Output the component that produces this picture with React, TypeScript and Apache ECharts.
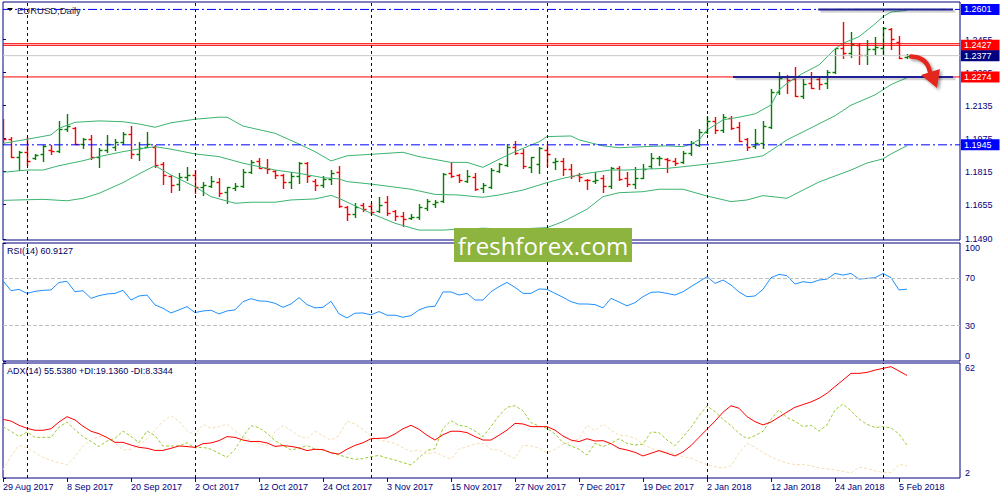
import { useEffect, useRef } from "react";
import * as echarts from "echarts";

// ---- values (bar index 0 = 29 Aug 2017) ----
const DATE_TICKS = [
  "29 Aug 2017", "8 Sep 2017", "20 Sep 2017", "2 Oct 2017", "12 Oct 2017",
  "24 Oct 2017", "3 Nov 2017", "15 Nov 2017", "27 Nov 2017", "7 Dec 2017",
  "19 Dec 2017", "2 Jan 2018", "12 Jan 2018", "24 Jan 2018", "5 Feb 2018",
];
const TICK_STEP = 8; // bars between date labels
const MONTH_STARTS = [3, 24, 46, 68, 88, 110];

const OPEN = [
  1.1985, 1.1973, 1.1885, 1.1909, 1.1883, 1.1899, 1.1920, 1.1917, 1.2022, 1.2027,
  1.1949, 1.1973, 1.1885, 1.1920, 1.1936, 1.1960, 1.1996, 1.1899, 1.1936, 1.1936,
  1.1851, 1.1794, 1.1754, 1.1791, 1.1799, 1.1739, 1.1747, 1.1764, 1.1715, 1.1737,
  1.1746, 1.1812, 1.1867, 1.1834, 1.1818, 1.1799, 1.1767, 1.1794, 1.1856, 1.1771,
  1.1750, 1.1778, 1.1815, 1.1642, 1.1610, 1.1654, 1.1650, 1.1626, 1.1670, 1.1626,
  1.1600, 1.1592, 1.1597, 1.1640, 1.1658, 1.1674, 1.1807, 1.1799, 1.1771, 1.1791,
  1.1735, 1.1742, 1.1818, 1.1847, 1.1936, 1.1904, 1.1839, 1.1852, 1.1920, 1.1860,
  1.1868, 1.1828, 1.1799, 1.1777, 1.1770, 1.1786, 1.1747, 1.1834, 1.1786, 1.1754,
  1.1786, 1.1844, 1.1880, 1.1876, 1.1867, 1.1860, 1.1904, 1.1944, 1.2008, 1.2061,
  1.2017, 1.2074, 1.2033, 1.1973, 1.1937, 1.1952, 1.2033, 1.2200, 1.2275, 1.2262,
  1.2183, 1.2245, 1.2262, 1.2245, 1.2297, 1.2416, 1.2389, 1.2429, 1.2380, 1.2408,
  1.2413, 1.2506, 1.2445, 1.2369,
];
const HIGH = [
  1.2070, 1.1985, 1.1915, 1.1985, 1.1899, 1.1944, 1.1944, 1.2062, 1.2095, 1.2030,
  1.1977, 1.1993, 1.1928, 1.1993, 1.1973, 1.2006, 1.2038, 1.1960, 1.2006, 1.1944,
  1.1863, 1.1799, 1.1807, 1.1839, 1.1823, 1.1766, 1.1796, 1.1786, 1.1742, 1.1762,
  1.1828, 1.1872, 1.1880, 1.1876, 1.1823, 1.1802, 1.1812, 1.1860, 1.1860, 1.1778,
  1.1796, 1.1823, 1.1843, 1.1649, 1.1662, 1.1662, 1.1665, 1.1691, 1.1697, 1.1629,
  1.1621, 1.1608, 1.1658, 1.1681, 1.1678, 1.1807, 1.1860, 1.1804, 1.1823, 1.1810,
  1.1759, 1.1831, 1.1856, 1.1948, 1.1964, 1.1924, 1.1888, 1.1933, 1.1948, 1.1880,
  1.1880, 1.1851, 1.1810, 1.1780, 1.1812, 1.1799, 1.1839, 1.1843, 1.1812, 1.1839,
  1.1851, 1.1904, 1.1892, 1.1883, 1.1880, 1.1917, 1.1964, 1.2022, 1.2085, 1.2081,
  1.2093, 1.2085, 1.2054, 1.1980, 1.2022, 1.2061, 1.2216, 1.2297, 1.2284, 1.2324,
  1.2264, 1.2297, 1.2270, 1.2308, 1.2416, 1.2539, 1.2491, 1.2437, 1.2453, 1.2469,
  1.2518, 1.2513, 1.2472, 1.2384,
];
const LOW = [
  1.1948, 1.1885, 1.1823, 1.1847, 1.1875, 1.1868, 1.1901, 1.1912, 1.2014, 1.1949,
  1.1928, 1.1875, 1.1839, 1.1912, 1.1920, 1.1948, 1.1880, 1.1872, 1.1933, 1.1836,
  1.1755, 1.1718, 1.1726, 1.1775, 1.1710, 1.1702, 1.1742, 1.1699, 1.1665, 1.1726,
  1.1742, 1.1807, 1.1831, 1.1807, 1.1783, 1.1737, 1.1737, 1.1762, 1.1767, 1.1726,
  1.1742, 1.1754, 1.1642, 1.1581, 1.1597, 1.1626, 1.1608, 1.1621, 1.1605, 1.1581,
  1.1552, 1.1584, 1.1584, 1.1629, 1.1642, 1.1670, 1.1791, 1.1764, 1.1764, 1.1726,
  1.1715, 1.1737, 1.1815, 1.1843, 1.1899, 1.1831, 1.1815, 1.1810, 1.1844, 1.1828,
  1.1799, 1.1786, 1.1770, 1.1731, 1.1759, 1.1718, 1.1737, 1.1775, 1.1747, 1.1737,
  1.1783, 1.1831, 1.1847, 1.1815, 1.1847, 1.1856, 1.1896, 1.1941, 1.2001, 1.2001,
  1.2009, 1.2022, 1.1964, 1.1920, 1.1928, 1.1928, 1.2028, 1.2190, 1.2195, 1.2182,
  1.2174, 1.2219, 1.2216, 1.2222, 1.2292, 1.2365, 1.2372, 1.2335, 1.2335, 1.2384,
  1.2384, 1.2408, 1.2365, 1.2367,
];
const CLOSE = [
  1.1973, 1.1885, 1.1912, 1.1867, 1.1896, 1.1938, 1.1917, 1.2022, 1.2035, 1.1951,
  1.1972, 1.1885, 1.1920, 1.1949, 1.1960, 1.1996, 1.1899, 1.1931, 1.1948, 1.1847,
  1.1799, 1.1750, 1.1791, 1.1799, 1.1739, 1.1750, 1.1770, 1.1710, 1.1739, 1.1747,
  1.1812, 1.1860, 1.1834, 1.1828, 1.1799, 1.1767, 1.1794, 1.1856, 1.1794, 1.1750,
  1.1778, 1.1810, 1.1649, 1.1610, 1.1642, 1.1633, 1.1621, 1.1654, 1.1613, 1.1602,
  1.1584, 1.1597, 1.1642, 1.1673, 1.1670, 1.1802, 1.1794, 1.1775, 1.1794, 1.1731,
  1.1750, 1.1823, 1.1851, 1.1936, 1.1904, 1.1844, 1.1885, 1.1928, 1.1901, 1.1868,
  1.1828, 1.1796, 1.1791, 1.1773, 1.1775, 1.1747, 1.1834, 1.1780, 1.1754, 1.1786,
  1.1828, 1.1880, 1.1882, 1.1872, 1.1859, 1.1904, 1.1953, 1.2006, 1.2061, 1.2017,
  1.2081, 1.2028, 1.1964, 1.1936, 1.1952, 1.2036, 1.2200, 1.2270, 1.2259, 1.2183,
  1.2238, 1.2222, 1.2240, 1.2297, 1.2413, 1.2389, 1.2432, 1.2380, 1.2410, 1.2421,
  1.2510, 1.2457, 1.2365, 1.2377,
];

// Bollinger bands (20, 2): [bar index, price]
const BB_UPPER = [
  [0, 1.1952], [3, 1.1972], [6, 1.1993], [7, 1.2025], [9, 1.2054], [12, 1.2061], [15, 1.2057],
  [17, 1.2046], [19, 1.2030], [21, 1.2052], [24, 1.2069], [27, 1.2079], [28, 1.2079], [30, 1.2036],
  [34, 1.2001], [37, 1.1949], [39, 1.1912], [41, 1.1867], [43, 1.1892], [46, 1.1899], [50, 1.1909],
  [52, 1.1888], [56, 1.1860], [58, 1.1860], [60, 1.1836], [62, 1.1875], [64, 1.1912], [67, 1.1960],
  [68, 1.1985], [71, 1.1988], [72, 1.1969], [75, 1.1940], [77, 1.1931], [80, 1.1936], [83, 1.1940],
  [85, 1.1936], [86, 1.1949], [87, 1.1969], [88, 1.2017], [90, 1.2066], [92, 1.2079], [94, 1.2095],
  [96, 1.2138], [97, 1.2211], [98, 1.2243], [100, 1.2292], [102, 1.2332], [104, 1.2410], [105, 1.2437],
  [107, 1.2469], [109, 1.2531], [110, 1.2566], [111, 1.2589], [113, 1.2596],
];
const BB_MIDDLE = [
  [0, 1.1812], [3, 1.1823], [5, 1.1823], [7, 1.1844], [10, 1.1868], [12, 1.1888], [15, 1.1912],
  [17, 1.1925], [19, 1.1936], [21, 1.1924], [24, 1.1901], [27, 1.1888], [30, 1.1856], [34, 1.1823],
  [37, 1.1807], [40, 1.1786], [42, 1.1780], [43, 1.1767], [46, 1.1755], [51, 1.1730], [54, 1.1705],
  [57, 1.1702], [59, 1.1694], [60, 1.1691], [62, 1.1702], [65, 1.1726], [68, 1.1762], [70, 1.1783],
  [73, 1.1807], [76, 1.1823], [78, 1.1823], [80, 1.1827], [83, 1.1831], [85, 1.1839], [89, 1.1856],
  [92, 1.1872], [95, 1.1892], [98, 1.1969], [101, 1.2027], [104, 1.2086], [106, 1.2137],
  [109, 1.2187], [111, 1.2237], [113, 1.2270],
];
const BB_LOWER = [
  [0, 1.1676], [5, 1.1681], [8, 1.1674], [10, 1.1686], [12, 1.1710], [15, 1.1762], [17, 1.1804],
  [19, 1.1844], [21, 1.1799], [24, 1.1742], [26, 1.1694], [29, 1.1662], [31, 1.1667], [34, 1.1667],
  [36, 1.1678], [39, 1.1683], [41, 1.1700], [42, 1.1686], [46, 1.1613], [49, 1.1565], [52, 1.1532],
  [55, 1.1532], [57, 1.1536], [60, 1.1541], [63, 1.1537], [66, 1.1540], [68, 1.1544], [70, 1.1573],
  [73, 1.1633], [75, 1.1694], [77, 1.1713], [80, 1.1718], [82, 1.1730], [85, 1.1730], [88, 1.1697],
  [91, 1.1670], [93, 1.1678], [95, 1.1699], [98, 1.1686], [100, 1.1726], [102, 1.1765], [104, 1.1794],
  [106, 1.1823], [108, 1.1857], [110, 1.1877], [111, 1.1901], [113, 1.1941],
];

const PRICE_TICKS = [1.2455, 1.2295, 1.2135, 1.1975, 1.1815, 1.1655, 1.149];
// horizontal levels drawn by the analyst: [price, tag text or ""]
const BLUE_LEVELS: [number, string][] = [[1.2601, "1.2601"], [1.1945, "1.1945"]];
const RED_LEVELS: [number, string][] = [[1.2435, ""], [1.2427, "1.2427"], [1.2274, "1.2274"]];
const BID = 1.2377;
// short trend segments: [from bar, to bar, price]
const SEGMENTS = [
  [101.9, 118.75, 1.2601],
  [91.25, 118.75, 1.2274],
];

const RSI = [
  68.0, 59.6, 60.7, 57.3, 59.0, 59.9, 60.2, 66.6, 67.5, 58.7,
  59.6, 53.1, 55.4, 56.8, 57.3, 59.9, 51.7, 55.1, 55.9, 47.5,
  44.7, 40.7, 43.3, 46.1, 41.0, 42.4, 43.0, 39.9, 42.4, 43.3,
  50.3, 52.8, 50.9, 50.6, 48.9, 45.5, 48.3, 53.7, 47.8, 45.0,
  45.5, 50.6, 39.9, 36.5, 40.5, 40.7, 39.1, 41.9, 38.8, 38.8,
  37.1, 38.5, 43.3, 45.8, 46.4, 58.5, 58.5, 55.9, 57.3, 51.7,
  51.7, 58.7, 63.0, 66.6, 62.4, 57.3, 57.3, 61.0, 60.7, 57.3,
  54.0, 50.3, 48.3, 48.3, 47.8, 45.0, 53.1, 50.0, 46.7, 49.5,
  54.5, 58.2, 58.5, 57.3, 55.9, 58.7, 63.0, 67.2, 71.4, 65.8,
  68.6, 64.4, 58.5, 54.5, 55.1, 60.7, 70.6, 73.4, 72.3, 65.2,
  67.2, 66.3, 68.6, 69.4, 74.2, 72.8, 74.2, 69.4, 70.0, 70.6,
  74.2, 70.6, 60.2, 60.9,
];
const RSI_LEVELS = [70, 30];

const ADX = [
  32.6, 31.7, 29.5, 27.9, 26.9, 26.9, 27.7, 31.2, 34.0, 32.3,
  29.0, 26.4, 25.1, 23.1, 20.6, 20.6, 19.2, 18.0, 17.5, 16.4,
  16.4, 17.5, 18.7, 18.4, 18.0, 19.9, 20.3, 21.5, 23.6, 23.2,
  21.8, 21.0, 21.1, 20.3, 18.5, 18.9, 18.5, 17.7, 16.3, 17.0,
  16.8, 15.1, 14.5, 17.0, 19.0, 20.4, 22.5, 22.7, 22.9, 25.0,
  27.7, 29.5, 27.4, 24.3, 21.8, 24.6, 26.4, 26.4, 25.7, 23.6,
  21.8, 21.8, 24.3, 27.0, 30.5, 30.2, 28.8, 28.8, 28.8, 27.0,
  23.9, 21.8, 21.0, 22.5, 21.3, 21.5, 19.9, 17.5, 16.6, 15.4,
  13.5, 14.9, 16.3, 14.9, 13.5, 15.6, 18.9, 23.2, 27.4, 31.7,
  36.3, 39.7, 38.4, 34.0, 31.4, 29.7, 31.2, 33.8, 36.4, 38.9,
  40.3, 41.7, 43.6, 46.2, 49.7, 53.1, 56.6, 56.6, 57.1, 58.3,
  59.2, 60.1, 57.8, 55.5,
];
const PLUS_DI = [
  28.8, 26.4, 23.6, 26.0, 23.2, 23.2, 23.2, 28.6, 31.2, 27.2,
  23.6, 21.1, 18.4, 21.3, 22.7, 26.5, 23.7, 20.4, 26.5, 24.1,
  18.7, 18.7, 18.7, 20.4, 17.7, 18.0, 17.0, 14.9, 12.8, 17.0,
  23.6, 29.3, 28.3, 25.3, 21.5, 19.0, 16.6, 17.5, 19.0, 17.0,
  16.6, 15.4, 14.0, 12.8, 11.7, 12.1, 13.1, 13.8, 12.4, 11.4,
  10.0, 8.8, 12.6, 16.3, 17.3, 27.9, 31.9, 29.5, 28.8, 26.5,
  23.6, 28.8, 34.5, 38.9, 39.7, 37.1, 30.9, 29.1, 27.9, 25.0,
  20.4, 18.7, 17.0, 14.0, 20.1, 18.4, 20.1, 22.5, 20.1, 19.2,
  19.7, 26.0, 25.7, 21.8, 18.9, 23.4, 28.4, 34.5, 39.6, 36.6,
  32.6, 29.3, 25.3, 22.5, 24.1, 26.4, 32.6, 37.5, 33.5, 31.6,
  28.8, 29.5, 26.4, 29.7, 37.5, 40.6, 37.1, 32.8, 30.0, 28.3,
  28.8, 28.1, 25.0, 19.1,
];
const MINUS_DI = [
  6.2, 13.5, 19.1, 17.8, 15.2, 12.8, 11.1, 10.0, 8.8, 13.1,
  18.7, 21.8, 23.6, 23.7, 20.1, 16.6, 17.0, 19.1, 22.5, 27.0,
  31.6, 34.4, 31.7, 26.7, 24.4, 30.0, 27.9, 28.8, 30.0, 26.7,
  23.4, 21.5, 19.9, 18.7, 26.2, 29.3, 26.9, 23.9, 22.7, 26.4,
  23.9, 21.8, 24.1, 31.7, 30.2, 27.2, 23.9, 21.8, 21.0, 20.1,
  17.7, 15.9, 16.6, 14.5, 15.4, 13.5, 11.9, 17.0, 18.4, 19.7,
  20.1, 17.0, 16.6, 14.0, 12.3, 19.1, 18.7, 17.7, 15.1, 17.0,
  19.6, 20.8, 22.5, 29.5, 26.7, 30.2, 27.0, 24.4, 23.9, 22.9,
  19.7, 17.5, 16.3, 15.7, 14.5, 13.1, 12.3, 10.5, 9.0, 7.9,
  7.2, 8.3, 14.9, 20.1, 18.0, 15.2, 13.1, 11.2, 9.8, 9.0,
  9.1, 8.3, 7.2, 6.7, 6.2, 5.5, 4.6, 7.6, 6.9, 5.8,
  4.8, 4.8, 9.1, 8.3,
];

// ---- layout & style ----
const X_MAX = 119.625; // visible bar slots, incl. right shift
const PRICE_MIN = 1.1484;
const PRICE_MAX = 1.2637;
const SHADOW_DROP = 0.0009; // ~2px drop of the trend-segment shadow
const FONT = '"Liberation Sans", Arial, sans-serif';
const NAVY = "#000080";
const UP = "#008000";
const DOWN = "#ff0000";
const BLUE = "#0000ff";
const BAND = "#3cb371";
const DASH_DOT = [9, 3, 2, 3];

const tagLabel = (text: string, bg: string) => ({
  show: text !== "",
  formatter: text,
  distance: 1,
  color: "#fff",
  backgroundColor: bg,
  padding: [1, 8, 0, 3],
  fontSize: 9,
  lineHeight: 10,
  fontFamily: FONT,
});

const sepLine = { color: "#00008b", type: [3, 3], width: 1 };

function buildOption() {
  const idx = (arr: number[]) => arr.map((v, i) => [i, v]);
  const ohlc = CLOSE.map((c, i) => [i, OPEN[i], HIGH[i], LOW[i], c]);
  const tickIdx = DATE_TICKS.map((_, k) => k * TICK_STEP);
  const labelBase = { color: NAVY, fontSize: 9, fontFamily: FONT };
  const gridBase = {
    left: 3,
    right: 40,
    show: true,
    borderColor: NAVY,
    borderWidth: 1,
    outerBoundsMode: "none",
    containLabel: false,
  };
  const edgeRich = {
    top: { padding: [10, 0, 0, 0], ...labelBase },
    bot: { padding: [0, 0, 10, 0], ...labelBase },
  };
  const separators = () => ({
    silent: true,
    precision: 4,
    symbol: ["none", "none"],
    label: { show: false },
    lineStyle: sepLine,
    data: MONTH_STARTS.map((i) => ({ xAxis: i })),
  });
  const priceLine = (name: string, price: number, color: string, type: any, text: string, tagBg: string) => ({
    name,
    type: "line",
    xAxisIndex: 0,
    yAxisIndex: 0,
    z: 4,
    silent: true,
    showSymbol: false,
    data: [[0, price], [X_MAX, price]],
    lineStyle: { color, type, width: 1 },
    endLabel: tagLabel(text, tagBg),
  });
  const segLine = (name: string, pts: number[][], color: string, width: number, z: number) => ({
    name,
    type: "line",
    xAxisIndex: 0,
    yAxisIndex: 0,
    z,
    silent: true,
    showSymbol: false,
    data: pts,
    lineStyle: { color, width },
  });

  return {
    animation: false,
    backgroundColor: "#ffffff",
    textStyle: { fontFamily: FONT },
    grid: [
      { ...gridBase, top: 2, height: 238 },
      { ...gridBase, top: 243, height: 118 },
      { ...gridBase, top: 363, height: 115 },
    ],
    xAxis: [0, 1, 2].map((g) => ({
      type: "value",
      gridIndex: g,
      min: 0,
      max: X_MAX,
      axisLine: { show: false },
      splitLine: { show: false },
      axisTick:
        g === 2
          ? { show: true, customValues: tickIdx, length: 4, lineStyle: { color: NAVY } }
          : { show: false },
      axisLabel:
        g === 2
          ? {
              show: true,
              customValues: tickIdx,
              formatter: (v: number) => DATE_TICKS[Math.round(v / TICK_STEP)] ?? "",
              align: "left",
              margin: 4,
              ...labelBase,
            }
          : { show: false },
    })),
    yAxis: [
      {
        type: "value",
        gridIndex: 0,
        position: "right",
        min: PRICE_MIN,
        max: PRICE_MAX,
        axisLine: { show: false },
        splitLine: { show: false },
        axisTick: { show: true, customValues: PRICE_TICKS, length: 3, lineStyle: { color: NAVY } },
        axisLabel: {
          customValues: PRICE_TICKS,
          formatter: (v: number) => v.toFixed(4),
          margin: 5,
          ...labelBase,
        },
      },
      {
        type: "value",
        gridIndex: 1,
        position: "right",
        min: 0,
        max: 100,
        axisLine: { show: false },
        splitLine: { show: false },
        axisTick: { show: true, customValues: [0, 30, 70, 100], length: 3, lineStyle: { color: NAVY } },
        axisLabel: {
          customValues: [0, 30, 70, 100],
          formatter: (v: number) => (v === 100 ? `{top|${v}}` : v === 0 ? `{bot|${v}}` : `${v}`),
          rich: edgeRich,
          margin: 5,
          ...labelBase,
        },
      },
      {
        type: "value",
        gridIndex: 2,
        position: "right",
        min: 2,
        max: 62,
        axisLine: { show: false },
        splitLine: { show: false },
        axisTick: { show: true, customValues: [2, 62], length: 3, lineStyle: { color: NAVY } },
        axisLabel: {
          customValues: [2, 62],
          formatter: (v: number) => (v === 62 ? `{top|${v}}` : `{bot|${v}}`),
          rich: edgeRich,
          margin: 5,
          ...labelBase,
        },
      },
    ],
    series: [
      {
        name: "EURUSD",
        type: "custom",
        xAxisIndex: 0,
        yAxisIndex: 0,
        z: 2,
        clip: true,
        silent: true,
        data: ohlc,
        encode: { x: 0, y: [1, 2, 3, 4] },
        renderItem: (_p: any, api: any) => {
          const i = api.value(0);
          const o = api.value(1);
          const h = api.value(2);
          const l = api.value(3);
          const c = api.value(4);
          const [x, yH] = api.coord([i, h]);
          const yL = api.coord([i, l])[1];
          const yO = Math.round(api.coord([i, o])[1]) + 0.5;
          const yC = Math.round(api.coord([i, c])[1]) + 0.5;
          const xs = Math.round(x) + 0.5;
          const style = { stroke: c >= o ? UP : DOWN, lineWidth: 1.4 };
          return {
            type: "group",
            children: [
              { type: "line", shape: { x1: xs, y1: Math.round(yH), x2: xs, y2: Math.round(yL) + 1 }, style },
              { type: "line", shape: { x1: xs - 3, y1: yO, x2: xs, y2: yO }, style },
              { type: "line", shape: { x1: xs, y1: yC, x2: xs + 3, y2: yC }, style },
            ],
          };
        },
      },
      {
        name: "BB upper",
        type: "line",
        xAxisIndex: 0,
        yAxisIndex: 0,
        z: 3,
        silent: true,
        showSymbol: false,
        data: BB_UPPER,
        lineStyle: { color: BAND, width: 1 },
        markLine: separators(),
      },
      {
        name: "BB middle",
        type: "line",
        xAxisIndex: 0,
        yAxisIndex: 0,
        z: 3,
        silent: true,
        showSymbol: false,
        data: BB_MIDDLE,
        lineStyle: { color: BAND, width: 1 },
      },
      {
        name: "BB lower",
        type: "line",
        xAxisIndex: 0,
        yAxisIndex: 0,
        z: 3,
        silent: true,
        showSymbol: false,
        data: BB_LOWER,
        lineStyle: { color: BAND, width: 1 },
      },
      ...BLUE_LEVELS.map(([p, t]) => priceLine(`level ${t}`, p, BLUE, DASH_DOT, t, BLUE)),
      ...RED_LEVELS.map(([p, t], k) => priceLine(`red ${k}`, p, DOWN, "solid", t, DOWN)),
      priceLine("bid", BID, "#c8c8c8", "solid", "1.2377", NAVY),
      ...SEGMENTS.map(([from, to, p], k) =>
        segLine(`segment shadow ${k}`, [[from + 0.3, p - SHADOW_DROP], [to + 0.3, p - SHADOW_DROP]], "rgba(60,60,60,0.22)", 3, 5),
      ),
      ...SEGMENTS.map(([from, to, p], k) => segLine(`segment ${k}`, [[from, p], [to, p]], "#1f1f96", 2, 6)),
      {
        name: "RSI",
        type: "line",
        xAxisIndex: 1,
        yAxisIndex: 1,
        silent: true,
        showSymbol: false,
        data: idx(RSI),
        lineStyle: { color: "#1e90ff", width: 1 },
        markLine: {
          ...separators(),
          data: [
            ...RSI_LEVELS.map((v) => ({ yAxis: v, lineStyle: { color: "#c0c0c0", type: [4, 2], width: 1 } })),
            ...MONTH_STARTS.map((i) => ({ xAxis: i })),
          ],
        },
      },
      {
        name: "ADX",
        type: "line",
        xAxisIndex: 2,
        yAxisIndex: 2,
        z: 4,
        silent: true,
        showSymbol: false,
        data: idx(ADX),
        lineStyle: { color: "#ff0000", width: 1 },
        markLine: separators(),
      },
      {
        name: "+DI",
        type: "line",
        xAxisIndex: 2,
        yAxisIndex: 2,
        silent: true,
        showSymbol: false,
        data: idx(PLUS_DI),
        lineStyle: { color: "#9acd32", width: 1, type: [3, 2] },
      },
      {
        name: "-DI",
        type: "line",
        xAxisIndex: 2,
        yAxisIndex: 2,
        silent: true,
        showSymbol: false,
        data: idx(MINUS_DI),
        lineStyle: { color: "#f5deb3", width: 1, type: [3, 2] },
      },
    ],
    graphic: [
      { type: "polygon", z: 50, shape: { points: [[7, 8], [13, 8], [10, 11]] }, style: { fill: "#000" } },
      {
        type: "text",
        z: 50,
        x: 17,
        y: 10,
        style: { text: "EURUSD,Daily", fill: "#20203a", font: `9.5px ${FONT}`, verticalAlign: "middle", textVerticalAlign: "middle" },
      },
      {
        type: "text",
        z: 50,
        x: 7,
        y: 251,
        style: { text: "RSI(14) 60.9127", fill: "#000060", font: `9px ${FONT}`, verticalAlign: "middle", textVerticalAlign: "middle" },
      },
      {
        type: "text",
        z: 50,
        x: 7,
        y: 371,
        style: {
          text: "ADX(14) 55.5380 +DI:19.1360 -DI:8.3344",
          fill: "#000060",
          font: `9px ${FONT}`,
          verticalAlign: "middle",
          textVerticalAlign: "middle",
        },
      },
      {
        type: "bezierCurve",
        z: 60,
        shape: { x1: 911, y1: 56.5, cpx1: 927, cpy1: 57, x2: 930, y2: 72 },
        style: {
          stroke: "#e4261f",
          fill: null,
          lineWidth: 4.5,
          lineCap: "round",
          shadowColor: "rgba(0,0,0,0.4)",
          shadowBlur: 3,
          shadowOffsetX: 2,
          shadowOffsetY: 2,
        },
      },
      {
        type: "polygon",
        z: 60,
        shape: { points: [[921, 75], [940, 69], [937, 88]] },
        style: {
          fill: "#e4261f",
          shadowColor: "rgba(0,0,0,0.4)",
          shadowBlur: 3,
          shadowOffsetX: 2,
          shadowOffsetY: 2,
        },
      },
      {
        type: "rect",
        z: 100,
        shape: { x: 454, y: 228, width: 178, height: 34 },
        style: { fill: "#8db43e" },
      },
      {
        type: "text",
        z: 101,
        x: 543,
        y: 245,
        style: {
          text: "freshforex.com",
          fill: "#ffffff",
          font: '24px "Open Sans"',
          align: "center",
          textAlign: "center",
          verticalAlign: "middle",
          textVerticalAlign: "middle",
        },
      },
    ],
  };
}

export default function App() {
  const chartRef = useRef<HTMLDivElement>(null);

  useEffect(() => {
    if (!chartRef.current) return;
    const chart = echarts.init(chartRef.current, null, { renderer: "svg" });
    chart.setOption(buildOption() as any);
    return () => chart.dispose();
  }, []);

  return (
    <div
      ref={chartRef}
      style={{ position: "absolute", left: 0, top: 0, width: 1000, height: 500, background: "#fff" }}
    />
  );
}
